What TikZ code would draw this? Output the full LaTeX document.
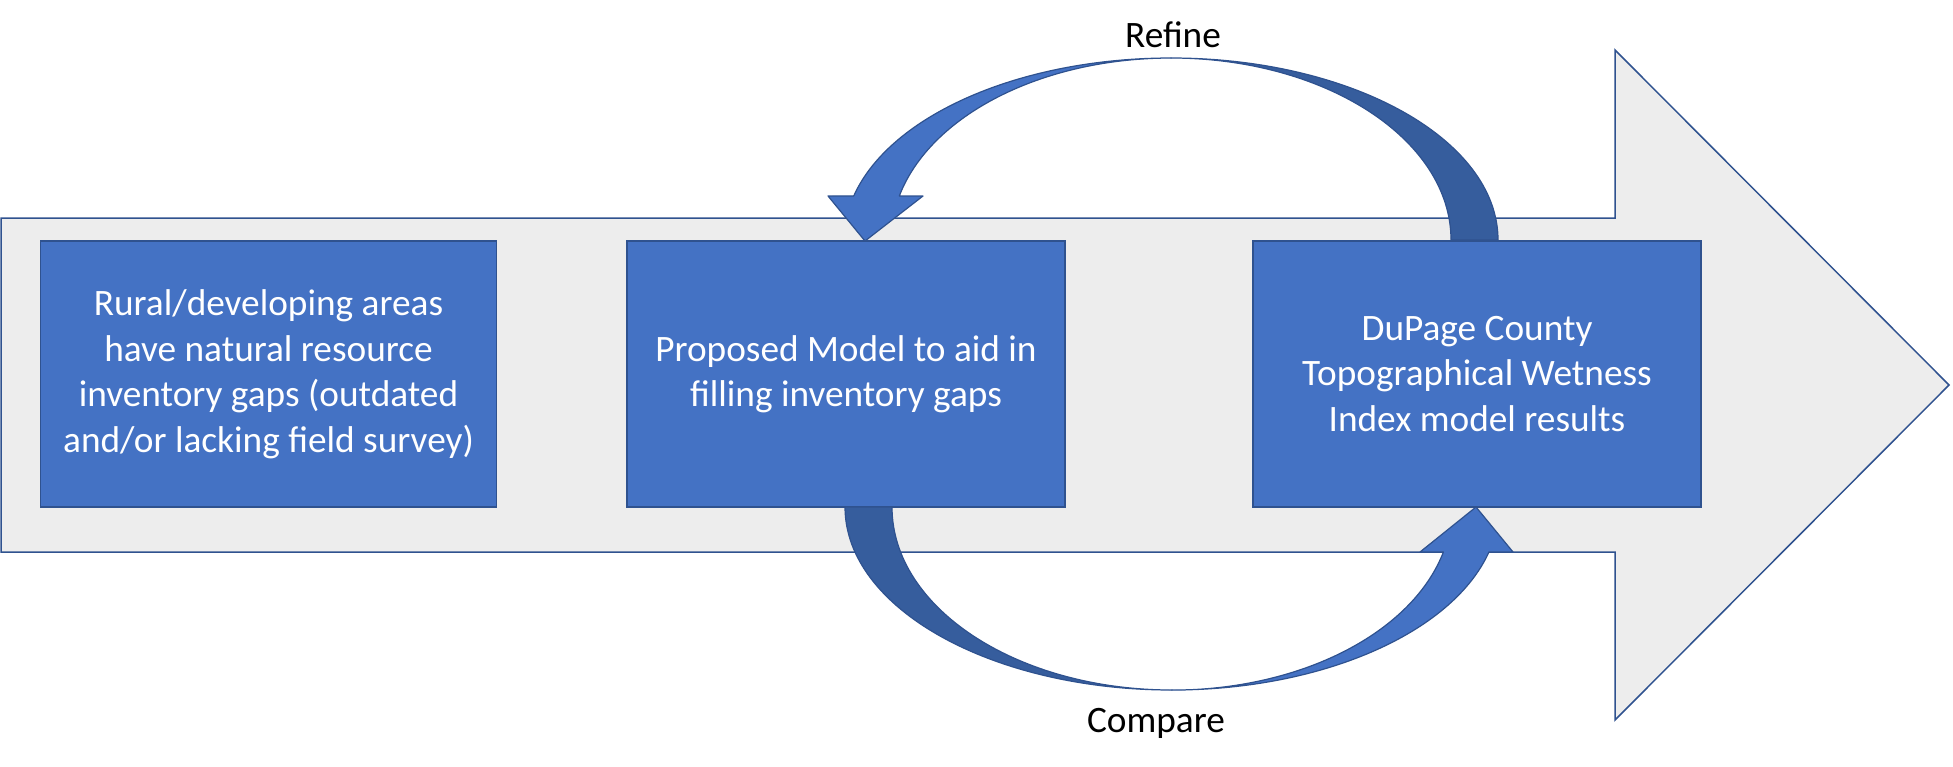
\documentclass[tikz,border=0pt]{standalone}
\usepackage{fontspec}
\setmainfont{Carlito}
\definecolor{boxblue}{RGB}{68,114,196}
\definecolor{edgeblue}{RGB}{47,82,143}
\definecolor{darkband}{RGB}{54,93,157}
\definecolor{shaftgray}{RGB}{237,237,237}
\begin{document}
\begin{tikzpicture}[x=1pt,y=-1pt,
  stepbox/.style={rectangle, fill=boxblue, draw=edgeblue, line width=1.5pt, text=white, align=center, inner sep=0pt, font=\fontsize{37.3}{45.5}\selectfont},
  looplabel/.style={font=\fontsize{37.3}{45.5}\selectfont, inner sep=0pt, anchor=base, text=black},
  band/.style={draw=edgeblue, line width=1.2pt, line join=round},
  bigarrow/.style={fill=shaftgray, draw=edgeblue, line width=1.5pt, line join=miter}]
\useasboundingbox (0,0) rectangle (1953,766);

% big process arrow
\draw[bigarrow] (1,218) -- (1615,218) -- (1615,50) -- (1949,385) -- (1615,720) -- (1615,552) -- (1,552) -- cycle;

% boxes
\node[stepbox, minimum width=456pt, minimum height=266pt] (b1) at (268.5,374)
  {Rural/developing areas\\have natural resource\\inventory gaps (outdated\\and/or lacking field survey)};
\node[stepbox, minimum width=438pt, minimum height=266pt] (b2) at (846,374)
  {Proposed Model to aid in\\filling inventory gaps};
\node[stepbox, minimum width=448pt, minimum height=266pt] (b3) at (1477,374)
  {DuPage County\\Topographical Wetness\\Index model results};

% Refine loop (from b3 top to b2 top)
\coordinate (tc) at (1171,240);
\draw[band, fill=darkband] (1498,240) arc[start angle=0, end angle=-90, x radius=327, y radius=182]
  arc[start angle=-90, end angle=0, x radius=280, y radius=182] -- cycle;
\draw[band, fill=boxblue] (1171,58) arc[start angle=-90, end angle=-166, x radius=327, y radius=182]
  -- (828,196) -- (865,241) -- (923,196) -- (899.3,196)
  arc[start angle=-166, end angle=-90, x radius=280, y radius=182] -- cycle;

% Compare loop (from b2 bottom to b3 bottom)
\coordinate (bc) at (1172,507);
\draw[band, fill=darkband] (845,507) arc[start angle=180, end angle=90, x radius=327, y radius=183]
  arc[start angle=90, end angle=180, x radius=280, y radius=183] -- cycle;
\draw[band, fill=boxblue] (1172,690) arc[start angle=90, end angle=14.2, x radius=327, y radius=183]
  -- (1513,552) -- (1476,507) -- (1420,552) -- (1443.4,552)
  arc[start angle=14.2, end angle=90, x radius=280, y radius=183] -- cycle;

% labels
\node[looplabel] (refine) at (1173,47) {Refine};
\node[looplabel] (compare) at (1156,732) {Compare};
\end{tikzpicture}
\end{document}
